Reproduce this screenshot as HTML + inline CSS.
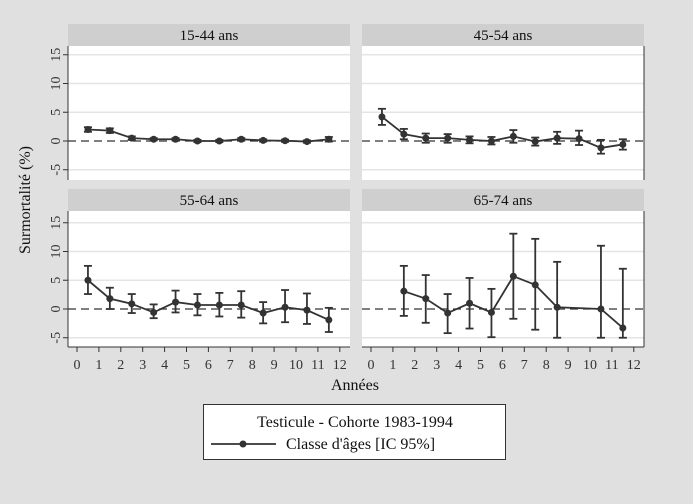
<!DOCTYPE html>
<html><head><meta charset="utf-8"><style>
body{margin:0;background:#e0e0e0;}
svg{display:block;font-family:"Liberation Serif",serif;}
</style></head><body>
<svg id="s" width="693" height="504" xmlns="http://www.w3.org/2000/svg">
<rect width="693" height="504" fill="#e0e0e0"/>
</svg>
<script>
const s=document.getElementById('s');let h='';
const panels=[
{t:'15-44 ans',px:68,hy:24,y0:141,bot:180,d:[[2,1.6,2.4],[1.8,1.4,2.2],[0.5,0.2,0.8],[0.3,0.1,0.5],[0.3,0.1,0.5],[0,-0.2,0.2],[0,-0.2,0.2],[0.3,0.1,0.5],[0.1,-0.1,0.3],[0.05,-0.15,0.25],[-0.1,-0.3,0.1],[0.3,-0.1,0.7]]},
{t:'45-54 ans',px:362,hy:24,y0:141,bot:180,d:[[4.2,2.8,5.6],[1.2,0.3,2.1],[0.5,-0.3,1.3],[0.5,-0.3,1.2],[0.2,-0.4,0.8],[0,-0.6,0.7],[0.8,-0.3,1.9],[-0.1,-0.8,0.6],[0.5,-0.5,1.6],[0.4,-0.7,1.8],[-1.2,-2.2,0.2],[-0.6,-1.5,0.3]]},
{t:'55-64 ans',px:68,hy:189,y0:309,bot:347,d:[[5,2.6,7.5],[1.8,0,3.7],[0.9,-0.7,2.6],[-0.6,-1.6,0.8],[1.2,-0.6,3.2],[0.7,-1.1,2.6],[0.7,-1.3,2.8],[0.7,-1.5,3.1],[-0.7,-2.5,1.2],[0.3,-2.3,3.3],[-0.2,-2.6,2.7],[-1.9,-4,0.2]]},
{t:'65-74 ans',px:362,hy:189,y0:309,bot:347,d:[null,[3.1,-1.2,7.5],[1.8,-2.4,5.9],[-0.7,-4.2,2.6],[1,-3.4,5.4],[-0.6,-4.9,3.5],[5.7,-1.7,13.1],[4.2,-3.6,12.2],[0.3,-5,8.2],null,[0,-5,11],[-3.3,-5,7]]}
];
panels.forEach((p,i)=>{
 const W=282,k=5.75;
 const X=v=>p.px+9+v*21.9, Y=v=>p.y0-v*k;
 h+=`<rect x="${p.px}" y="${p.hy}" width="${W}" height="22" fill="#cfcfcf"/>`;
 h+=`<text x="${p.px+W/2}" y="${p.hy+16}" font-size="15" text-anchor="middle" fill="#111">${p.t}</text>`;
 h+=`<rect x="${p.px}" y="${p.hy+22}" width="${W}" height="${p.bot-p.hy-22}" fill="#fff"/>`;
 [15,10,5,-5].forEach(v=>h+=`<line x1="${p.px}" x2="${p.px+W}" y1="${Y(v)}" y2="${Y(v)}" stroke="#e4e4e4" stroke-width="1.5"/>`);
 h+=`<line x1="${p.px}" x2="${p.px+W}" y1="${Y(0)}" y2="${Y(0)}" stroke="#333" stroke-width="1.3" stroke-dasharray="8,5"/>`;
 if(p.px==68){
  h+=`<line x1="68" x2="68" y1="${p.hy+22}" y2="${p.bot}" stroke="#333"/>`;
  [15,10,5,0,-5].forEach(v=>{h+=`<line x1="63" x2="68" y1="${Y(v)}" y2="${Y(v)}" stroke="#333"/>`;
  h+=`<text transform="translate(60,${Y(v)}) rotate(-90)" font-size="14" text-anchor="middle" fill="#333">${v}</text>`;});
 } else {
  h+=`<line x1="${p.px+W}" x2="${p.px+W}" y1="${p.hy+22}" y2="${p.bot}" stroke="#333"/>`;
 }
 if(i>=2){
  h+=`<line x1="${p.px}" x2="${p.px+W}" y1="${p.bot}" y2="${p.bot}" stroke="#333"/>`;
  for(let t=0;t<=12;t++){h+=`<line x1="${X(t)}" x2="${X(t)}" y1="${p.bot}" y2="${p.bot+5}" stroke="#333"/>`;
  h+=`<text x="${X(t)}" y="${p.bot+22}" font-size="14" text-anchor="middle" fill="#333">${t}</text>`;}
 }
 let pts=[];
 p.d.forEach((d,j)=>{if(!d)return;const x=X(j+0.5);pts.push(`${x},${Y(d[0])}`);
  h+=`<line x1="${x}" x2="${x}" y1="${Y(d[1])}" y2="${Y(d[2])}" stroke="#333" stroke-width="1.8"/>`;
  [d[1],d[2]].forEach(v=>h+=`<line x1="${x-4}" x2="${x+4}" y1="${Y(v)}" y2="${Y(v)}" stroke="#333" stroke-width="1.8"/>`);});
 h+=`<polyline points="${pts.join(' ')}" fill="none" stroke="#333" stroke-width="1.8"/>`;
 pts.forEach(q=>{const [a,b]=q.split(',');h+=`<circle cx="${a}" cy="${b}" r="3.5" fill="#333"/>`;});
});
h+=`<text transform="translate(30,200) rotate(-90)" font-size="16" text-anchor="middle" fill="#111">Surmortalité (%)</text>`;
h+=`<text x="355" y="390" font-size="16" text-anchor="middle" fill="#111">Années</text>`;
h+=`<rect x="203.5" y="404.5" width="302" height="55" fill="#fff" stroke="#333"/>`;
h+=`<text x="355" y="427" font-size="16" text-anchor="middle" fill="#111">Testicule - Cohorte 1983-1994</text>`;
h+=`<line x1="211" x2="276" y1="444" y2="444" stroke="#333" stroke-width="1.8"/><circle cx="243" cy="444" r="3.5" fill="#333"/>`;
h+=`<text x="286" y="449" font-size="16" fill="#111">Classe d'âges [IC 95%]</text>`;
s.innerHTML+=h;
</script>
</body></html>
